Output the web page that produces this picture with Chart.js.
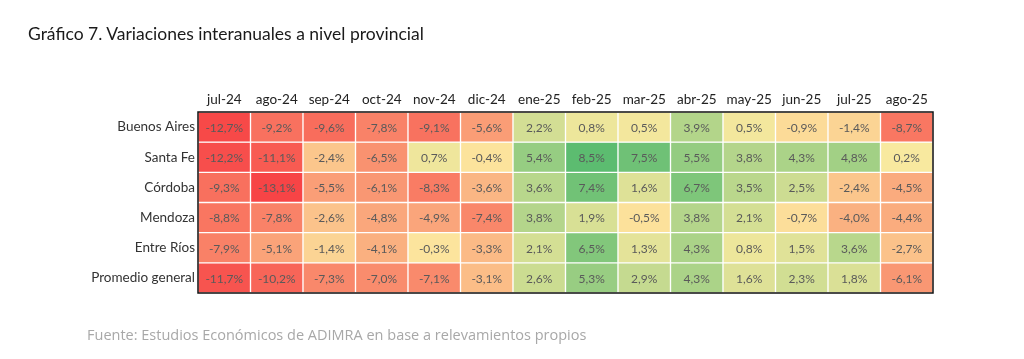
<!DOCTYPE html>
<html>
<head>
<meta charset="utf-8">
<script src="https://cdn.jsdelivr.net/npm/chart.js@4"></script>
<style>
  html, body { margin: 0; padding: 0; background: #fff; }
  #wrap { position: relative; width: 1024px; height: 359px; overflow: hidden; }
  #title { position: absolute; left: 28px; top: 23px; font-family: Lato, sans-serif; font-size: 17.5px; color: #1a1a1a; }
  #source { position: absolute; left: 87px; top: 325px; font-family: "Open Sans", sans-serif; font-size: 14.5px; color: #a8a8a8; }
  canvas { position: absolute; left: 0; top: 0; }
</style>
</head>
<body>
<div id="wrap">
  <canvas id="heat" width="1024" height="359"></canvas>
  <div id="title">Gráfico 7. Variaciones interanuales a nivel provincial</div>
  <div id="source">Fuente: Estudios Económicos de ADIMRA en base a relevamientos propios</div>
</div>
<script>
// Heatmap data: year-on-year changes (%) per province
const months = ['jul-24', 'ago-24', 'sep-24', 'oct-24', 'nov-24', 'dic-24', 'ene-25',
  'feb-25', 'mar-25', 'abr-25', 'may-25', 'jun-25', 'jul-25', 'ago-25'];
const provinces = ['Buenos Aires', 'Santa Fe', 'Córdoba', 'Mendoza', 'Entre Ríos', 'Promedio general'];

const buenosAires = [-12.7, -9.2, -9.6, -7.8, -9.1, -5.6, 2.2, 0.8, 0.5, 3.9, 0.5, -0.9, -1.4, -8.7];
const santaFe     = [-12.2, -11.1, -2.4, -6.5, 0.7, -0.4, 5.4, 8.5, 7.5, 5.5, 3.8, 4.3, 4.8, 0.2];
const cordoba     = [-9.3, -13.1, -5.5, -6.1, -8.3, -3.6, 3.6, 7.4, 1.6, 6.7, 3.5, 2.5, -2.4, -4.5];
const mendoza     = [-8.8, -7.8, -2.6, -4.8, -4.9, -7.4, 3.8, 1.9, -0.5, 3.8, 2.1, -0.7, -4.0, -4.4];
const entreRios   = [-7.9, -5.1, -1.4, -4.1, -0.3, -3.3, 2.1, 6.5, 1.3, 4.3, 0.8, 1.5, 3.6, -2.7];
const promedio    = [-11.7, -10.2, -7.3, -7.0, -7.1, -3.1, 2.6, 5.3, 2.9, 4.3, 1.6, 2.3, 1.8, -6.1];

const rows = [buenosAires, santaFe, cordoba, mendoza, entreRios, promedio];

// Colour scale: red (min) -> pale yellow (0) -> green (max)
const RED = [247, 68, 70];
const MID = [252, 234, 160];
const GREEN = [92, 188, 112];
const allValues = rows.flat();
const vMin = Math.min(...allValues);
const vMax = Math.max(...allValues);

function mix(a, b, t) {
  return 'rgb(' + a.map((c, i) => Math.round(c + (b[i] - c) * t)).join(',') + ')';
}
function cellColor(v) {
  if (v < 0) return mix(MID, RED, Math.pow(v / vMin, 0.9));
  return mix(MID, GREEN, v / vMax);
}
function fmt(v) {
  return v.toFixed(1).replace('.', ',') + '%';
}

// Each province is one stacked dataset of unit-height cells
const datasets = rows.map((vals, r) => ({
  label: provinces[r],
  data: vals.map(() => 1),
  values: vals,
  backgroundColor: vals.map(cellColor),
  borderColor: '#ffffff',
  borderWidth: 1,
  borderSkipped: false,
  barPercentage: 1,
  categoryPercentage: 1,
  stack: 'grid'
}));

// Draw values inside cells and the black frame
const cellLabels = {
  id: 'cellLabels',
  afterDatasetsDraw(chart) {
    const ctx = chart.ctx;
    ctx.save();
    ctx.font = '12px Lato, sans-serif';
    ctx.fillStyle = '#5a5a5a';
    ctx.textAlign = 'center';
    ctx.textBaseline = 'middle';
    chart.data.datasets.forEach((ds, i) => {
      chart.getDatasetMeta(i).data.forEach((el, j) => {
        const p = el.getCenterPoint();
        ctx.fillText(fmt(ds.values[j]), p.x, p.y + 1);
      });
    });
    const a = chart.chartArea;
    ctx.strokeStyle = '#111111';
    ctx.lineWidth = 1.5;
    ctx.strokeRect(a.left, a.top, a.right - a.left, a.bottom - a.top);
    ctx.restore();
  }
};

new Chart(document.getElementById('heat'), {
  type: 'bar',
  data: { labels: months, datasets: datasets },
  options: {
    responsive: false,
    animation: false,
    layout: { padding: { left: 0, top: 0, right: 91, bottom: 66 } },
    plugins: {
      legend: { display: false },
      tooltip: { enabled: false }
    },
    scales: {
      x: {
        position: 'top',
        stacked: true,
        grid: { display: false, drawTicks: false },
        border: { display: false },
        ticks: { color: '#222222', font: { family: 'Lato, sans-serif', size: 13.5 }, padding: 4, maxRotation: 0 },
        afterFit(scale) { scale.height = 112; }
      },
      y: {
        display: false,
        stacked: true,
        reverse: true,
        min: 0,
        max: provinces.length
      },
      yl: {
        type: 'category',
        position: 'left',
        labels: provinces,
        offset: true,
        grid: { display: false, drawTicks: false },
        border: { display: false },
        ticks: { color: '#333333', font: { family: 'Lato, sans-serif', size: 13.5 }, padding: 3 },
        afterFit(scale) { scale.width = 198; }
      }
    }
  },
  plugins: [cellLabels]
});
</script>
</body>
</html>
